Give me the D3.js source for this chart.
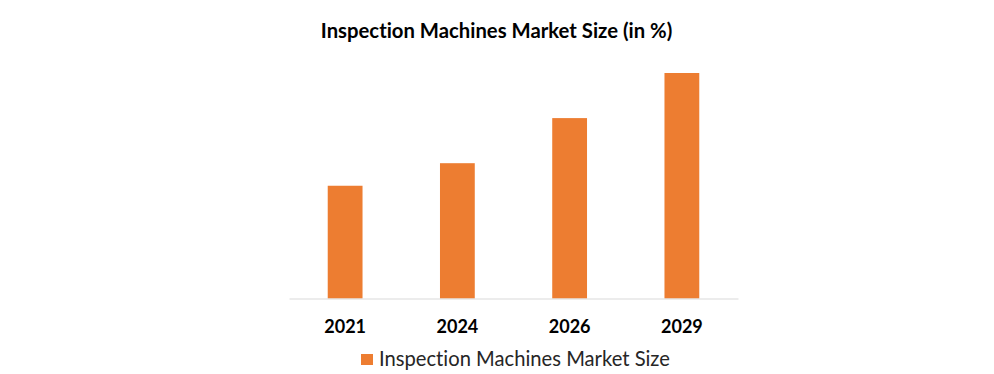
<!DOCTYPE html>
<html><head><meta charset="utf-8">
<script src="https://cdn.jsdelivr.net/npm/d3@7"></script>
<style>body{margin:0;background:#fff}svg{display:block}</style>
</head><body><svg id="c" width="994" height="374"></svg>
<script>
const categories = ["2021", "2024", "2026", "2029"];
const values = [5, 6, 8, 10];
const seriesName = "Inspection Machines Market Size";
const title = "Inspection Machines Market Size (in %)";

const svg = d3.select("#c");
const font = "Lato, 'Open Sans', sans-serif";
const x = d3.scaleBand().domain(categories).range([289, 738]).paddingInner(0.69).paddingOuter(0.345);
const y = d3.scaleLinear().domain([0, 10]).range([298.5, 73]);

svg.append("text").attr("x", 496.5).attr("y", 37.5).attr("text-anchor", "middle")
  .attr("font-family", font).attr("font-weight", "bold").attr("font-size", 20.3)
  .style("font-variant-ligatures", "none").attr("fill", "#000").text(title);

svg.append("g").selectAll("rect").data(values).join("rect")
  .attr("x", (d, i) => x(categories[i])).attr("width", x.bandwidth())
  .attr("y", d => y(d)).attr("height", d => y(0) - y(d)).attr("fill", "#ED7D31");

const ax = svg.append("g").attr("transform", `translate(0,${y(0)})`)
  .call(d3.axisBottom(x).tickSize(0).tickPadding(22));
ax.select(".domain").attr("stroke", "#d9d9d9").attr("stroke-width", 1);
ax.selectAll("text").attr("font-family", font).attr("font-weight", "bold").attr("font-size", 18).attr("fill", "#000");

const lg = svg.append("g");
lg.append("rect").attr("x", 361).attr("y", 354).attr("width", 12).attr("height", 11).attr("fill", "#ED7D31");
lg.append("text").attr("x", 379).attr("y", 365.5).attr("font-family", font).attr("font-size", 20.2)
  .style("font-variant-ligatures", "none").attr("fill", "#262626").text(seriesName);
</script></body></html>
